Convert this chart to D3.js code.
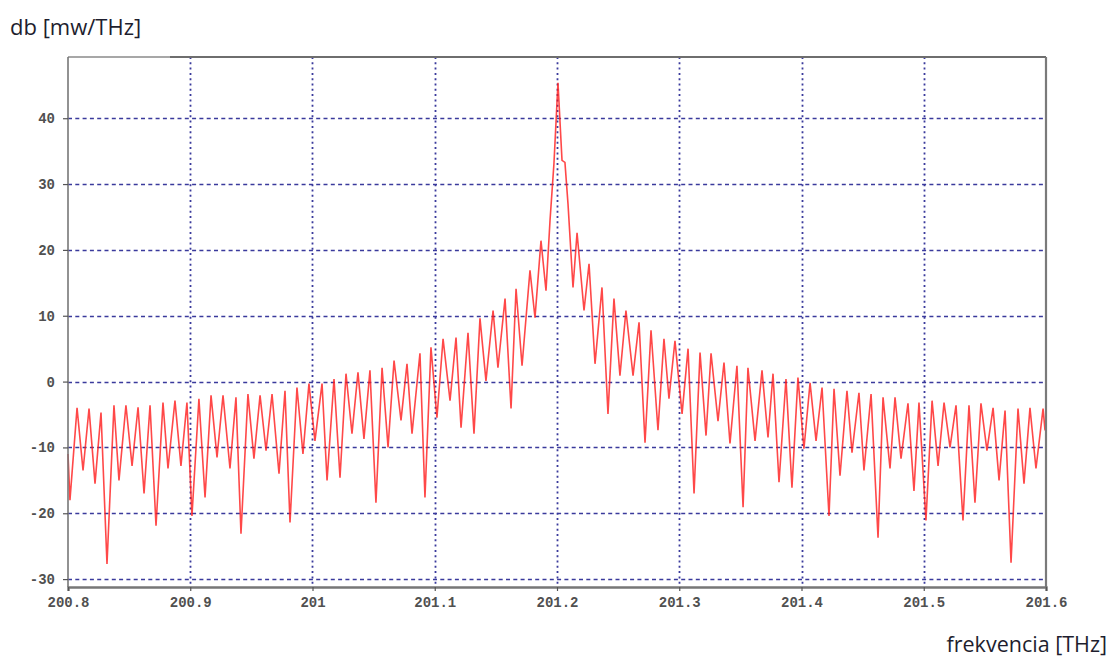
<!DOCTYPE html>
<html>
<head>
<meta charset="utf-8">
<script src="https://cdn.jsdelivr.net/npm/d3@7/dist/d3.min.js"></script>
<style>
  html, body { margin: 0; padding: 0; background: #ffffff; }
  svg { display: block; }
</style>
</head>
<body>
<svg id="chart" width="1112" height="660"></svg>
<script>
// ---- data ----
const freqTHz = [
  200.8000, 200.8016, 200.8074, 200.8123, 200.8172, 200.8221, 200.8270, 200.8319, 200.8376, 200.8417,
  200.8474, 200.8524, 200.8573, 200.8622, 200.8671, 200.8720, 200.8777, 200.8818, 200.8875, 200.8924,
  200.8973, 200.9014, 200.9071, 200.9121, 200.9170, 200.9219, 200.9268, 200.9325, 200.9374, 200.9415,
  200.9472, 200.9521, 200.9571, 200.9620, 200.9669, 200.9726, 200.9775, 200.9816, 200.9873, 200.9922,
  200.9971, 201.0020, 201.0078, 201.0119, 201.0176, 201.0225, 201.0274, 201.0323, 201.0372, 201.0421,
  201.0470, 201.0519, 201.0569, 201.0618, 201.0667, 201.0724, 201.0773, 201.0814, 201.0879, 201.0920,
  201.0969, 201.1018, 201.1068, 201.1125, 201.1174, 201.1215, 201.1272, 201.1321, 201.1370, 201.1419,
  201.1477, 201.1517, 201.1575, 201.1624, 201.1665, 201.1714, 201.1779, 201.1820, 201.1869, 201.1910,
  201.1943, 201.1975, 201.2008, 201.2041, 201.2065, 201.2090, 201.2131, 201.2164, 201.2221, 201.2262,
  201.2311, 201.2368, 201.2417, 201.2466, 201.2515, 201.2564, 201.2622, 201.2671, 201.2720, 201.2769,
  201.2826, 201.2875, 201.2916, 201.2965, 201.3023, 201.3072, 201.3121, 201.3170, 201.3219, 201.3260,
  201.3317, 201.3366, 201.3415, 201.3472, 201.3522, 201.3562, 201.3620, 201.3677, 201.3726, 201.3767,
  201.3816, 201.3873, 201.3922, 201.3971, 201.4020, 201.4070, 201.4119, 201.4168, 201.4225, 201.4266,
  201.4315, 201.4372, 201.4413, 201.4470, 201.4511, 201.4569, 201.4626, 201.4667, 201.4724, 201.4765,
  201.4814, 201.4871, 201.4920, 201.4961, 201.5018, 201.5068, 201.5117, 201.5166, 201.5215, 201.5264,
  201.5321, 201.5370, 201.5419, 201.5468, 201.5517, 201.5567, 201.5616, 201.5665, 201.5714, 201.5771,
  201.5820, 201.5869, 201.5918, 201.5976, 201.5992
];
const powerDb = [
  -11.0, -18.0, -4.0, -13.5, -4.1, -15.5, -4.7, -27.7, -3.6, -15.0,
  -3.6, -12.8, -3.9, -17.0, -3.6, -21.9, -3.2, -13.2, -2.9, -12.8,
  -3.2, -20.4, -2.6, -17.6, -2.1, -11.5, -2.1, -13.2, -2.4, -23.1,
  -1.9, -11.7, -2.1, -10.5, -1.9, -14.0, -1.4, -21.4, -0.9, -11.0,
  -0.3, -9.0, -0.3, -15.0, 0.4, -14.6, 1.2, -7.9, 1.4, -8.7,
  1.7, -18.4, 2.1, -10.0, 3.2, -5.9, 2.7, -7.9, 4.3, -17.6,
  5.2, -5.5, 6.5, -2.9, 6.7, -7.0, 7.4, -7.9, 9.6, 0.1,
  10.8, 2.1, 12.6, -4.1, 14.1, 2.4, 16.9, 9.7, 21.4, 13.8,
  24.5, 33.1, 45.4, 33.6, 33.3, 27.0, 14.3, 22.6, 10.8, 17.9,
  2.7, 14.3, -4.9, 12.6, 0.9, 10.8, 0.9, 9.0, -9.3, 7.8,
  -7.4, 6.5, -2.6, 6.2, -4.9, 5.0, -17.0, 4.4, -8.2, 4.3,
  -6.0, 2.9, -9.4, 2.4, -19.1, 2.1, -9.0, 1.7, -8.5, 1.2,
  -15.3, 0.4, -16.1, 0.6, -10.2, -0.2, -9.0, -0.9, -20.4, -1.1,
  -14.3, -1.4, -10.8, -1.7, -13.5, -1.9, -23.7, -2.4, -13.2, -2.4,
  -11.7, -3.3, -16.6, -3.2, -21.1, -2.9, -12.8, -3.2, -10.0, -3.6,
  -21.1, -3.6, -18.4, -3.3, -10.5, -4.0, -15.0, -4.4, -27.5, -4.1,
  -15.5, -4.0, -13.2, -4.1, -7.4
];
const xTickValues = [200.8, 200.9, 201.0, 201.1, 201.2, 201.3, 201.4, 201.5, 201.6];
const xTickLabels = ["200.8", "200.9", "201", "201.1", "201.2", "201.3", "201.4", "201.5", "201.6"];
const yTickValues = [-30, -20, -10, 0, 10, 20, 30, 40];
const yTickLabels = ["-30", "-20", "-10", "0", "10", "20", "30", "40"];
const yAxisTitle = "db [mw/THz]";
const xAxisTitle = "frekvencia [THz]";

// ---- layout ----
const plot = { left: 68, right: 1046, top: 57, bottom: 587 };
const svg = d3.select("#chart");

const x = d3.scaleLinear().domain([200.8, 201.6]).range([plot.left, plot.right]);
const y = d3.scaleLinear().domain([-31.2, 49.3]).range([plot.bottom, plot.top]);

const gridColor = "#3a3a9c";

// horizontal grid
svg.append("g").selectAll("line")
  .data(yTickValues)
  .join("line")
  .attr("x1", plot.left).attr("x2", plot.right)
  .attr("y1", d => Math.round(y(d)) + 0.5).attr("y2", d => Math.round(y(d)) + 0.5)
  .attr("stroke", gridColor).attr("stroke-width", 1.6)
  .attr("stroke-dasharray", "4,3.3");

// vertical grid (interior only)
svg.append("g").selectAll("line")
  .data(xTickValues.slice(1, -1))
  .join("line")
  .attr("x1", d => Math.round(x(d)) + 0.5).attr("x2", d => Math.round(x(d)) + 0.5)
  .attr("y1", plot.top).attr("y2", plot.bottom)
  .attr("stroke", gridColor).attr("stroke-width", 1.8)
  .attr("stroke-dasharray", "2,3.3");

// series line
const line = d3.line()
  .x((d, i) => x(freqTHz[i]))
  .y(d => y(d))
  .curve(d3.curveLinear);

svg.append("path")
  .datum(powerDb)
  .attr("d", line)
  .attr("fill", "none")
  .attr("stroke", "#ff1a1a")
  .attr("stroke-opacity", 0.8)
  .attr("stroke-width", 1.6)
  .attr("stroke-linejoin", "miter");

// frame
svg.append("line").attr("x1", plot.left).attr("x2", 170).attr("y1", plot.top).attr("y2", plot.top)
  .attr("stroke", "#8a8a8a").attr("stroke-width", 1.4);
svg.append("line").attr("x1", 170).attr("x2", plot.right).attr("y1", plot.top).attr("y2", plot.top)
  .attr("stroke", "#6e6e6e").attr("stroke-width", 2);
svg.append("line").attr("x1", plot.right).attr("x2", plot.right).attr("y1", plot.top).attr("y2", plot.bottom)
  .attr("stroke", "#7a7a7a").attr("stroke-width", 2.2);

// axes via d3 axis generators
const tickFont = "'Liberation Mono', 'DejaVu Sans Mono', monospace";

const xAxis = d3.axisBottom(x)
  .tickValues(xTickValues)
  .tickFormat((d, i) => xTickLabels[i])
  .tickSize(4).tickPadding(6);
const gx = svg.append("g").attr("transform", `translate(0,${plot.bottom})`).call(xAxis);
gx.select(".domain").attr("stroke", "#777").attr("stroke-width", 2.4);
gx.selectAll(".tick line").attr("stroke", "#555").attr("stroke-width", 1.2);
gx.selectAll(".tick text")
  .attr("font-family", tickFont).attr("font-size", 14).attr("font-weight", "bold")
  .attr("fill", "#505050");

const yAxis = d3.axisLeft(y)
  .tickValues(yTickValues)
  .tickFormat((d, i) => yTickLabels[i])
  .tickSize(5).tickPadding(8);
const gy = svg.append("g").attr("transform", `translate(${plot.left},0)`).call(yAxis);
gy.select(".domain").attr("stroke", "#777").attr("stroke-width", 1.6)
  .attr("d", `M0,${plot.top}V${plot.bottom}`);
gy.selectAll(".tick line").attr("stroke", "#555").attr("stroke-width", 1.2);
gy.selectAll(".tick text")
  .attr("font-family", tickFont).attr("font-size", 14).attr("font-weight", "bold")
  .attr("fill", "#505050");

// titles
svg.append("text")
  .attr("x", 10).attr("y", 35)
  .attr("font-family", "'Open Sans', 'Noto Sans', sans-serif")
  .attr("font-size", 22)
  .attr("fill", "#1e1e2e")
  .text(yAxisTitle);

svg.append("text")
  .attr("x", 1107).attr("y", 652)
  .attr("text-anchor", "end")
  .attr("font-family", "'Open Sans', 'Noto Sans', sans-serif")
  .attr("font-size", 21.5)
  .attr("fill", "#1e1e2e")
  .text(xAxisTitle);
</script>
</body>
</html>
